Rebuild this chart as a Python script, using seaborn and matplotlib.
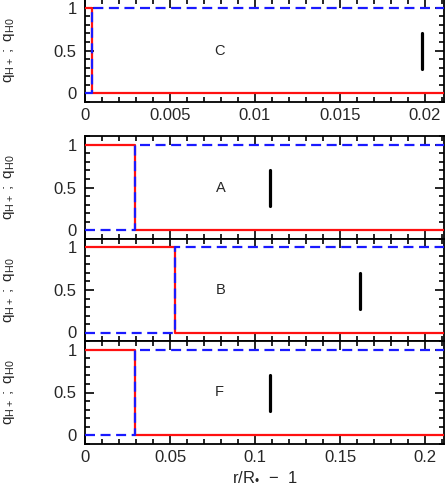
import numpy as np
import matplotlib
matplotlib.use("Agg")
import matplotlib.pyplot as plt
from matplotlib.ticker import MultipleLocator, FuncFormatter
import seaborn as sns

# --- data ---
models = ['C', 'A', 'B', 'F']
front_r = [0.0004, 0.0293, 0.0527, 0.0293]     # r/R* - 1 where H+ -> H0
bar_r = [0.01985, 0.1086, 0.1616, 0.1085]      # position of the black marker
bar_q = [0.28, 0.70]
label_r = [0.0079, 0.0800, 0.0800, 0.0790]
r_max = [0.0211, 0.2107, 0.2107, 0.2107]
q_hplus = [1, 0, 0]
q_h0 = [0, 1, 1]

sns.set_theme(style="ticks")
plt.rcParams['font.family'] = ['Liberation Sans', 'DejaVu Sans']
plt.rcParams['mathtext.fontset'] = 'custom'
plt.rcParams['mathtext.rm'] = 'Liberation Sans'
plt.rcParams['mathtext.it'] = 'Liberation Sans'

fig = plt.figure(figsize=(4.45, 4.88), dpi=100)
W, H = 445.0, 488.0
left = 85 / W
width = (443.5 - 85) / W
# panel top/bottom in pixels
boxes = [(-1, 102), (136, 239), (239, 341), (341, 444)]

for i, m in enumerate(models):
    top, bot = boxes[i]
    ax = fig.add_axes([left, 1 - bot / H, width, (bot - top) / H])
    x = [0, front_r[i], r_max[i]]
    sns.lineplot(x=x, y=q_hplus, ax=ax, color='#ff1010', lw=1.6,
                 drawstyle='steps-post', estimator=None, sort=False, zorder=3)
    sns.lineplot(x=x, y=q_h0, ax=ax, color='#1a1aff', lw=1.6,
                 linestyle=(0, (4.5, 2.5)),
                 drawstyle='steps-post', estimator=None, sort=False, zorder=4)
    sns.lineplot(x=[bar_r[i], bar_r[i]], y=bar_q, ax=ax, color='black',
                 lw=2.3, estimator=None, sort=False)
    ax.text(label_r[i], 0.5, m, fontsize=10.5, ha='center', va='center')

    ax.set_xlim(0, r_max[i])
    ax.set_ylim(-0.1, 1.1)
    if i == 0:
        ax.xaxis.set_major_locator(MultipleLocator(0.005))
        ax.xaxis.set_minor_locator(MultipleLocator(0.001))
    else:
        ax.xaxis.set_major_locator(MultipleLocator(0.05))
        ax.xaxis.set_minor_locator(MultipleLocator(0.01))
    ax.yaxis.set_major_locator(MultipleLocator(0.5))
    ax.yaxis.set_minor_locator(MultipleLocator(0.1))
    fmt = FuncFormatter(lambda v, p: '%g' % round(v, 6))
    ax.xaxis.set_major_formatter(fmt)
    ax.yaxis.set_major_formatter(fmt)
    ax.tick_params(which='both', direction='in', top=True, right=True,
                   width=1.2, color='black', labelsize=12)
    ax.tick_params(axis='x', pad=4)
    ax.tick_params(axis='y', pad=6)
    ax.tick_params(which='major', length=6.5)
    ax.tick_params(which='minor', length=3.8)
    if i in (1, 2):
        ax.tick_params(labelbottom=False)
    for s in ax.spines.values():
        s.set_linewidth(1.3)
        s.set_color('black')
    ax.set_ylabel(r'$\mathregular{q_{H+}\ ;\ q_{H0}}$', fontsize=11)
    ax.yaxis.set_label_coords(-0.19, 0.5)
    ax.set_xlabel('')
    if i == 3:
        ax.set_xlabel('r/R$_{\u2022}$  \u2212  1', fontsize=12, labelpad=3)

fig.savefig('out.png', dpi=100)
